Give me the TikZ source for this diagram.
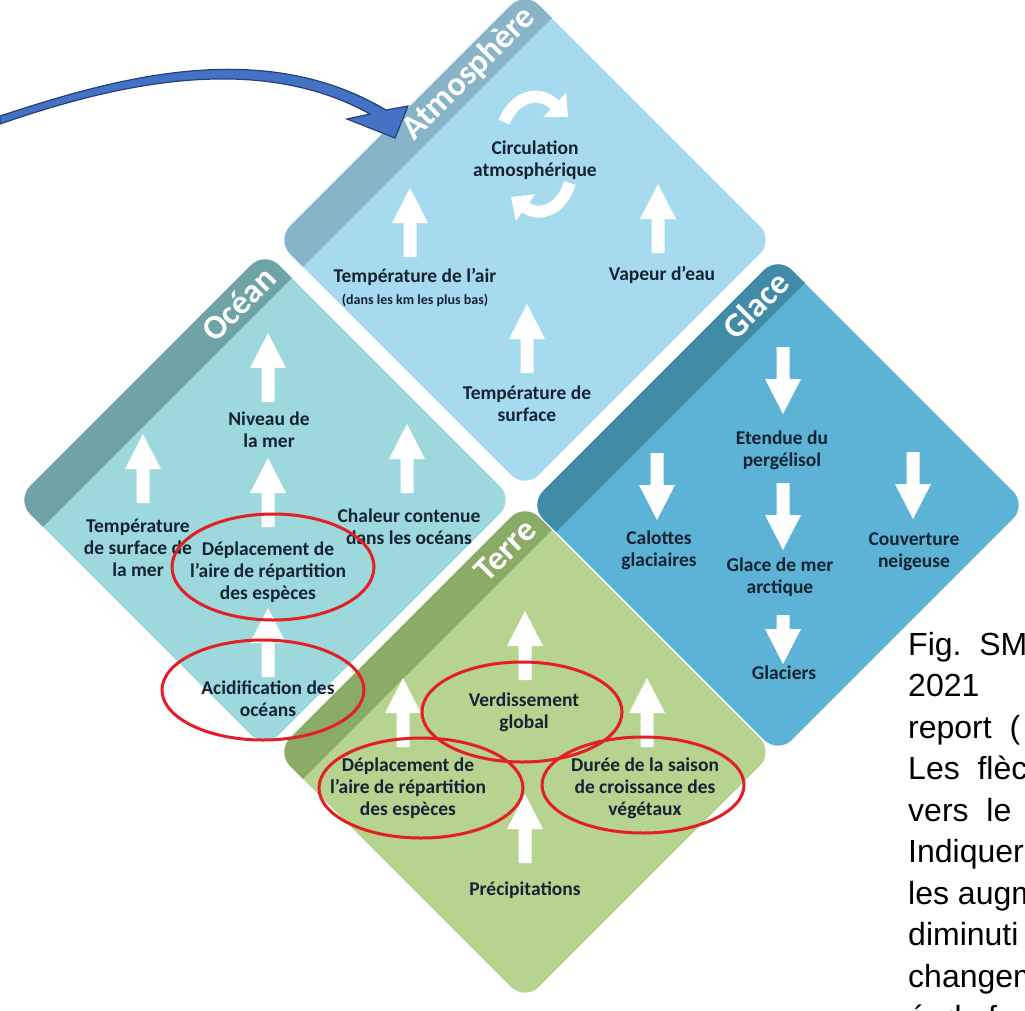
\documentclass[tikz,border=0pt]{standalone}
\usepackage{fontspec}
\setmainfont{Carlito}
\newfontfamily\capfont{Liberation Sans}
\usetikzlibrary{arrows.meta}
\definecolor{atmofill}{RGB}{166,218,238}
\definecolor{atmoband}{RGB}{135,180,198}
\definecolor{oceanfill}{RGB}{157,216,220}
\definecolor{oceanband}{RGB}{111,163,166}
\definecolor{icefill}{RGB}{92,179,213}
\definecolor{iceband}{RGB}{63,139,168}
\definecolor{landfill}{RGB}{182,212,143}
\definecolor{landband}{RGB}{138,171,102}
\definecolor{ink}{RGB}{20,34,52}
\definecolor{ringred}{RGB}{227,30,36}
\definecolor{arrowblue}{RGB}{68,114,196}
\definecolor{arrowedge}{RGB}{37,64,120}
\tikzset{
  pics/uparr/.style={code={\fill[white] (-6.5,0) -- (-6.5,-#1) -- (-18,-#1) -- (0,-#1-35) -- (18,-#1) -- (6.5,-#1) -- (6.5,0) -- cycle;}},
  pics/uparr/.default=34,
  pics/downarr/.style={code={\fill[white] (-6.5,0) -- (-6.5,#1) -- (-18,#1) -- (0,#1+35) -- (18,#1) -- (6.5,#1) -- (6.5,0) -- cycle;}},
  pics/downarr/.default=32,
}

\begin{document}
\begin{tikzpicture}[x=1pt, y=-1pt]
        \tikzstyle{txt}=[text=ink, align=center, inner sep=0pt, font=\fontsize{19.5}{22}\selectfont\bfseries]
        \tikzstyle{ttl}=[text=white, inner sep=0pt, font=\fontsize{34}{34}\selectfont\bfseries]
        \tikzstyle{ring}=[draw=ringred, line width=3pt]
        \tikzstyle{spin}=[white, line width=12pt, -{Triangle[width=32pt,length=18pt]}]
        \useasboundingbox (0,0) rectangle (1025,1010);

        % The four diamonds, band and title
        \foreach \cx/\cy/\fc/\bc/\tt/\nm in {525/240/atmofill/atmoband/Atmosphère/atmo,
                265/500/oceanfill/oceanband/Océan/ocean,
                778/505/icefill/iceband/Glace/ice,
                525/752/landfill/landband/Terre/land}{
            \begin{scope}[shift={(\cx,\cy)}, rotate=45]
                \begin{scope}
                    \clip[rounded corners=20] (-176,-176) rectangle (176,176);
                    \fill[\fc] (-176,-176) rectangle (176,176);
                    \fill[\bc] (-180,-180) rectangle (180,-138);
                \end{scope}
                \node[ttl, anchor=east, rotate=45] (\nm) at (165,-157) {\tt};
            \end{scope}
        }

        % Atmosphere
        \node[txt] (circ) at (535,160) {Circulation\\atmosphérique};
        \draw[spin] (504,122) .. controls (514,98) and (537,88) .. (568,117);
        \draw[spin] (570,183) .. controls (562,209) and (540,218) .. (511,197);
        \node[txt] (airtemp) at (415,288) {Température de l'air\\{\fontsize{14}{16}\selectfont (dans les km les plus bas)}};
        \node[txt] (vapour) at (662,275) {Vapeur d'eau};
        \node[txt] (surftemp) at (527,404) {Température de\\surface};
        \pic at (410,257) {uparr};
        \pic at (658,253) {uparr};
        \pic at (527,373) {uparr};

        % Ocean
        \node[txt] (seatemp) at (138,548) {Température\\de surface de\\la mer};
        \node[txt] (sealevel) at (269,430) {Niveau de\\la mer};
        \node[txt] (oshift) at (268,572) {Déplacement de\\l'aire de répartition\\des espèces};
        \node[txt] (oheat) at (409,527) {Chaleur contenue\\dans les océans};
        \node[txt] (oacid) at (268,699) {Acidification des\\océans};
        \pic at (143,503) {uparr};
        \pic at (268,402) {uparr};
        \pic at (268,527) {uparr};
        \pic at (407,493) {uparr};
        \pic at (268,677) {uparr};

        % Ice
        \node[txt] (permafrost) at (782,450) {Etendue du\\pergélisol};
        \node[txt] (icecaps) at (659,550) {Calottes\\glaciaires};
        \node[txt] (seaice) at (780,577) {Glace de mer\\arctique};
        \node[txt] (snow) at (914,552) {Couverture\\neigeuse};
        \node[txt] (glaciers) at (784,673) {Glaciers};
        \pic at (783,347) {downarr};
        \pic at (657,453) {downarr};
        \pic at (783,483) {downarr};
        \pic at (913,452) {downarr};
        \pic at (783,615) {downarr=14};

        % Land
        \node[txt] (greening) at (524,712) {Verdissement\\global};
        \node[txt] (lshift) at (408,788) {Déplacement de\\l'aire de répartition\\des espèces};
        \node[txt] (season) at (645,788) {Durée de la saison\\de croissance des\\végétaux};
        \node[txt] (rain) at (525,890) {Précipitations};
        \pic at (525,680) {uparr};
        \pic at (403,747) {uparr};
        \pic at (647,747) {uparr};
        \pic at (525,863) {uparr};

        % Red rings
        \draw[ring] ([shift={(5,-5)}]oshift) ellipse [x radius=101, y radius=53];
        \draw[ring] ([shift={(-5,-9)}]oacid) ellipse [x radius=101, y radius=50];
        \draw[ring] ([shift={(-2,0)}]greening) ellipse [x radius=100, y radius=50];
        \draw[ring] ([shift={(13,0)}]lshift) ellipse [x radius=102, y radius=50];
        \draw[ring] ([shift={(-2,-3)}]season) ellipse [x radius=101, y radius=48];

        % Blue arrow to the title
        \coordinate (tip) at (395,138);
        \filldraw[fill=arrowblue, draw=arrowedge, line width=1.2pt]
            (0,116) .. controls (110,80) and (260,35) .. (386,110) -- (408,106) -- (tip)
            -- (347,119) -- (370,114) .. controls (255,50) and (110,86) .. (0,124) -- cycle;

        % Caption, cut at the border
        \node[anchor=north west, inner sep=0pt, align=left, font=\capfont\fontsize{32}{41.5}\selectfont] (caption) at (908,632)
            {Fig.\ \ SM\\2021\\report\ \ (\\Les\ \ flèc\\vers\ \ le\\Indiquer\\les augm\\diminuti\\changem\\é\ \ d\ \ \ f};
    \end{tikzpicture}
\end{document}
